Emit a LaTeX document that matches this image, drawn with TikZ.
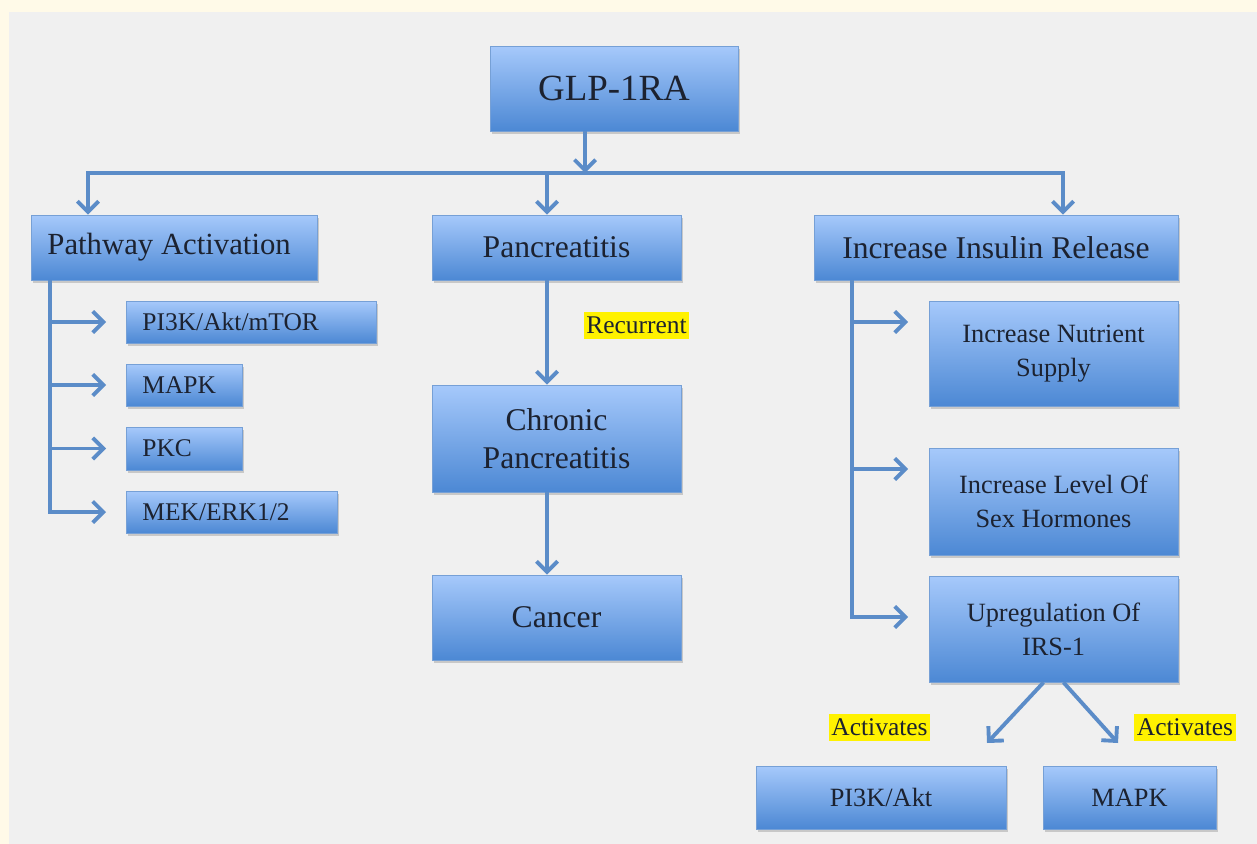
\documentclass[tikz,border=0pt]{standalone}
\usepackage{fontspec}
\setmainfont{Liberation Serif}
\usepackage{xcolor}
\usepackage{tikz}
\usetikzlibrary{arrows.meta, shadows, calc}

\definecolor{bgyellow}{HTML}{FFFAE8}
\definecolor{bggray}{HTML}{F0F0F0}
\definecolor{boxtop}{HTML}{A6C9FB}
\definecolor{boxbot}{HTML}{4C88D4}
\definecolor{boxedge}{HTML}{76A0D6}
\definecolor{boxtext}{HTML}{1C2230}
\definecolor{arrowblue}{HTML}{5B8CC8}

\tikzset{
    box/.style={draw=boxedge, line width=0.5pt, top color=boxtop, bottom color=boxbot,
        text=boxtext, inner sep=0pt,
        drop shadow={shadow xshift=1pt, shadow yshift=-1.5pt, opacity=0.35}},
    bigbox/.style={box, align=center, font=\fontsize{18}{21.6}\selectfont},
    leftbox/.style={box, anchor=west, align=flush left, inner xsep=0.32cm,
        font=\fontsize{14.5}{17}\selectfont},
    sidebox/.style={box, align=center, font=\fontsize{15}{19.5}\selectfont},
    hilite/.style={fill=yellow, inner xsep=1.5pt, inner ysep=3pt, text=boxtext,
        font=\fontsize{14.5}{17}\selectfont},
    arr/.style={draw=arrowblue, line width=2.2pt,
        -{Straight Barb[length=6pt, width=12pt]}},
}

\begin{document}
\begin{tikzpicture}[x=0.02cm, y=-0.02cm]
    % =================================================================
    % 1. Background
    % =================================================================
    \useasboundingbox (0,0) rectangle (1257,844);
    \fill[bgyellow] (0,0) rectangle (1257,844);
    \fill[bggray] (9,12) rectangle (1257,844);

    % =================================================================
    % 2. Boxes
    % =================================================================
    \node[bigbox, minimum width=4.96cm, minimum height=1.70cm,
          font=\fontsize{21}{25}\selectfont] (glp) at (614,88.5) {GLP-1RA};

    % left column
    \node[leftbox, text width=5.08cm, minimum height=1.30cm,
          font=\fontsize{17.5}{21}\selectfont] (pathway) at (31,247.5) {Pathway Activation};
    \node[leftbox, text width=4.36cm, minimum height=0.84cm] (pik) at (126,322) {PI3K/Akt/mTOR};
    \node[leftbox, text width=1.68cm, minimum height=0.84cm] (mapk) at (126,385) {MAPK};
    \node[leftbox, text width=1.68cm, minimum height=0.86cm] (pkc) at (126,448.5) {PKC};
    \node[leftbox, text width=3.58cm, minimum height=0.84cm] (mek) at (126,512) {MEK/ERK1/2};

    % middle column
    \node[bigbox, minimum width=4.98cm, minimum height=1.30cm] (panc) at (556.5,247.5) {Pancreatitis};
    \node[bigbox, minimum width=4.98cm, minimum height=2.14cm] (chronic) at (556.5,438.5) {Chronic\\Pancreatitis};
    \node[bigbox, minimum width=4.98cm, minimum height=1.70cm] (cancer) at (556.5,617.5) {Cancer};
    \node[hilite] (recurrent) at (636.5,325.5) {Recurrent};

    % right column
    \node[bigbox, minimum width=7.28cm, minimum height=1.30cm] (insulin) at (996,247.5) {Increase Insulin Release};
    \node[sidebox, minimum width=4.98cm, minimum height=2.10cm] (nutrient) at (1053.5,353.5) {Increase Nutrient\\Supply};
    \node[sidebox, minimum width=4.98cm, minimum height=2.14cm] (hormones) at (1053.5,501.5) {Increase Level Of\\Sex Hormones};
    \node[sidebox, minimum width=4.98cm, minimum height=2.12cm] (irs) at (1053.5,629) {Upregulation Of\\IRS-1};
    \node[sidebox, minimum width=5.00cm, minimum height=1.26cm] (piakt) at (881,797.5) {PI3K/Akt};
    \node[sidebox, minimum width=3.46cm, minimum height=1.26cm] (mapkb) at (1129.5,797.5) {MAPK};
    \node[hilite] (actl) at (879.5,727.5) {Activates};
    \node[hilite] (actr) at (1185,727.5) {Activates};

    % =================================================================
    % 3. Connectors
    % =================================================================
    \coordinate (hub) at (585,173);
    \coordinate (bl) at (88,173);
    \coordinate (bm) at (547,173);
    \coordinate (br) at (1063,173);
    \draw[arr] (glp.south -| hub) -- (hub);
    \draw[arr] (hub) -- (bl) -- (bl |- pathway.north);
    \draw[arr] (hub) -- (br) -- (br |- insulin.north);
    \draw[arr] (bm) -- (bm |- panc.north);

    % left trunk
    \coordinate (ltrunk) at (50,280);
    \foreach \n in {pik,mapk,pkc}
        \draw[arr] (ltrunk |- \n.west) -- ++(56,0);
    \draw[arr] (ltrunk) -- (ltrunk |- mek.west) -- ++(56,0);

    % middle chain
    \draw[arr] (panc.south -| bm) -- (chronic.north -| bm);
    \draw[arr] (chronic.south -| bm) -- (cancer.north -| bm);

    % right trunk (branches sit in the upper part of each box)
    \coordinate (rtrunk) at (852,280);
    \coordinate (rend) at (852,617);
    \foreach \y in {322,469}
        \draw[arr] (852,\y) -- ++(56,0);
    \draw[arr] (rtrunk) -- (rend) -- ++(56,0);

    % IRS-1 split
    \coordinate (tipl) at (987,743);
    \coordinate (tipr) at (1118,743);
    \draw[arr] ([xshift=-0.2cm]irs.south) -- (tipl);
    \draw[arr] ([xshift=0.2cm]irs.south) -- (tipr);
\end{tikzpicture}
\end{document}
